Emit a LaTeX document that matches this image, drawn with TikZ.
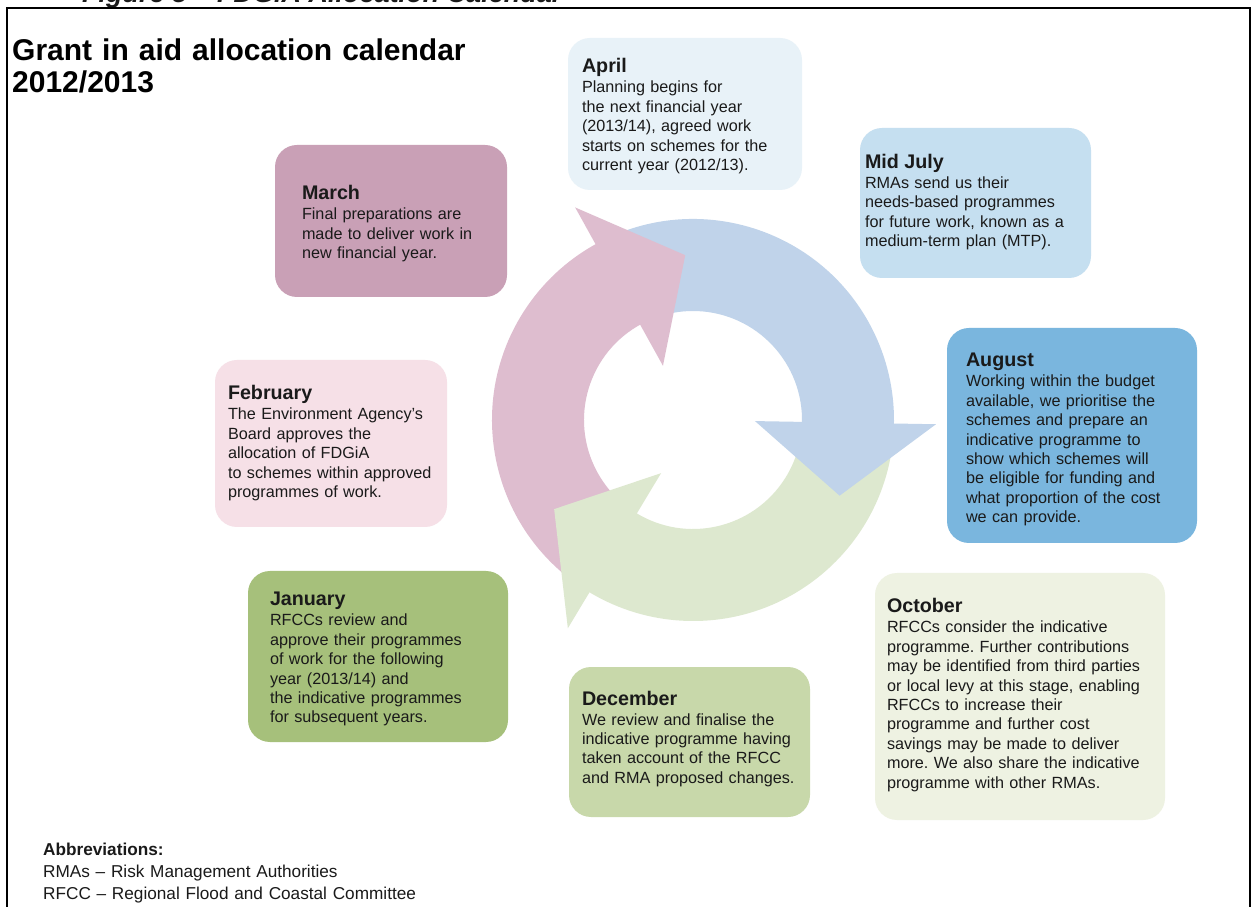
\documentclass[tikz,border=0pt]{standalone}
\usepackage{fontspec}
\setmainfont{Liberation Sans}
\frenchspacing
\definecolor{pinkA}{HTML}{DEBDCF}
\definecolor{blueA}{HTML}{C0D3EA}
\definecolor{greenA}{HTML}{DDE8CF}
\definecolor{aprC}{HTML}{E8F2F8}
\definecolor{julC}{HTML}{C5DFF0}
\definecolor{augC}{HTML}{7AB6DE}
\definecolor{octC}{HTML}{EEF2E2}
\definecolor{decC}{HTML}{C8D8AA}
\definecolor{janC}{HTML}{A6C07B}
\definecolor{febC}{HTML}{F6E0E7}
\definecolor{marC}{HTML}{C9A0B6}
\definecolor{txt}{HTML}{1A1A1A}
\newcommand\mhead[1]{{\bfseries\fontsize{19.7}{19.4}\selectfont #1}\\[0.6pt]}
\begin{document}
\begin{tikzpicture}[x=1pt,y=1pt,
  mbox/.style={rounded corners=22pt, inner sep=0pt, outer sep=0pt, draw=none},
  mtext/.style={anchor=base west, inner sep=0pt, outer sep=0pt, align=left,
    text width=330pt, text=txt, font=\fontsize{16.2}{19.4}\selectfont\frenchspacing}]
\useasboundingbox (0,0) rectangle (1256,906);
\clip (0,0) rectangle (1256,906);
\fill[white] (0,0) rectangle (1256,906);

% caption (cut off at the top)
\node[anchor=base west, inner sep=0pt, text=txt,
  font=\bfseries\itshape\fontsize{27}{30}\selectfont] (cap) at (82,903)
  {Figure 5 – FDGiA Allocation Calendar};

% frame
\draw[line width=2pt] (7,-5) -- (7,897.5) -- (1250,897.5) -- (1250,-5);

% title
\node[anchor=base west, inner sep=0pt, align=left, text width=600pt, text=black,
  font=\bfseries\fontsize{30}{32}\selectfont] (title) at (12,845)
  {Grant in aid allocation calendar\\2012/2013};

% circular arrows
\begin{scope}[shift={(693,486)}]
  \fill[pinkA] (235:201) arc[start angle=235, end angle=118, radius=201]
    -- (118:109) arc[start angle=118, end angle=235, radius=109] -- cycle;
  \fill[blueA] (115:201) arc[start angle=115, end angle=-2, radius=201]
    -- (-2:109) arc[start angle=-2, end angle=115, radius=109] -- cycle;
  \fill[greenA] (-5:201) arc[start angle=-5, end angle=-122, radius=201]
    -- (-122:109) arc[start angle=-122, end angle=-5, radius=109] -- cycle;
  \fill[pinkA] (119:243) -- (92.7:165) -- (119:62) -- cycle;
  \fill[blueA] (-1:243) -- (-27.3:165) -- (-1:62) -- cycle;
  \fill[greenA] (-121:243) -- (-147.3:165) -- (-121:62) -- cycle;
\end{scope}

% month boxes
\node[mbox, fill=aprC, minimum width=234pt, minimum height=152pt] (aprbox) at (685,792) {};
\node[mbox, fill=julC, minimum width=231pt, minimum height=150pt] (julbox) at (975.5,703) {};
\node[mbox, fill=marC, minimum width=232pt, minimum height=152pt] (marbox) at (391,685) {};
\node[mbox, fill=febC, minimum width=232pt, minimum height=167pt] (febbox) at (331,462.5) {};
\node[mbox, fill=augC, minimum width=250pt, minimum height=215pt] (augbox) at (1072,470.5) {};
\node[mbox, fill=octC, minimum width=290pt, minimum height=247pt] (octbox) at (1020,209.5) {};
\node[mbox, fill=decC, minimum width=241pt, minimum height=150pt] (decbox) at (689.5,164) {};
\node[mbox, fill=janC, minimum width=260pt, minimum height=171pt] (janbox) at (378,249.5) {};

% month texts
\node[mtext] (aprtext) at (582,833) {\mhead{April}Planning begins for\\the next financial year\\(2013/14), agreed work\\starts on schemes for the\\current year (2012/13).};
\node[mtext] (jultext) at (865,737.5) {\mhead{Mid July}RMAs send us their\\needs-based programmes\\for future work, known as a\\medium-term plan (MTP).};
\node[mtext] (martext) at (302,706) {\mhead{March}Final preparations are\\made to deliver work in\\new financial year.};
\node[mtext] (febtext) at (228,506) {\mhead{February}The Environment Agency’s\\Board approves the\\allocation of FDGiA\\to schemes within approved\\programmes of work.};
\node[mtext] (augtext) at (966,539) {\mhead{August}Working within the budget\\available, we prioritise the\\schemes and prepare an\\indicative programme to\\show which schemes will\\be eligible for funding and\\what proportion of the cost\\we can provide.};
\node[mtext] (octtext) at (887,293) {\mhead{October}RFCCs consider the indicative\\programme. Further contributions\\may be identified from third parties\\or local levy at this stage, enabling\\RFCCs to increase their\\programme and further cost\\savings may be made to deliver\\more. We also share the indicative\\programme with other RMAs.};
\node[mtext] (dectext) at (582,201) {\mhead{December}We review and finalise the\\indicative programme having\\taken account of the RFCC\\and RMA proposed changes.};
\node[mtext] (jantext) at (270,300) {\mhead{January}RFCCs review and\\approve their programmes\\of work for the following\\year (2013/14) and\\the indicative programmes\\for subsequent years.};

% abbreviations
\node[anchor=base west, inner sep=0pt, align=left, text width=500pt, text=txt,
  font=\fontsize{17.2}{22}\selectfont] (abbr) at (43,51)
  {\textbf{Abbreviations:}\\RMAs – Risk Management Authorities\\RFCC – Regional Flood and Coastal Committee};
\end{tikzpicture}
\end{document}
